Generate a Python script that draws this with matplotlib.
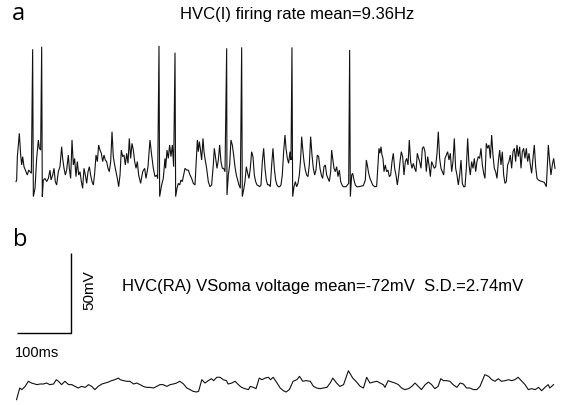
import matplotlib
matplotlib.use("Agg")
import matplotlib.pyplot as plt
import numpy as np

plt.rcParams['font.family'] = ['Liberation Sans', 'DejaVu Sans']

# ---------------- data (ms, mV) ----------------
# Panel a: HVC(I) membrane potential, subthreshold samples
a_t = [0, 1.2, 2.5, 6.2, 8.7, 10.6, 12.4, 14.9, 18.6, 21.1, 23.6, 26.1, 28.6,
       32.3, 35.4, 38.5, 41.6, 43.5, 45.9,
       49.0, 50.9, 54, 57.1, 60.2, 63.3, 65.2, 68.3, 70.8, 73.2, 75.7, 78.8, 81.9,
       85, 86.9, 89.4, 91.9, 94.3, 97.4, 99.3, 101.8, 104.3, 106.8, 109.2, 111.7,
       114.2, 116.7, 119.2, 121.7, 124.1, 126.6, 129.1, 131.6, 134.1, 136.6, 139,
       141.5, 144, 146.5, 149, 151.5, 153.9, 156.4, 158.9, 161.4, 163.9, 166.3,
       168.8, 171.3, 173.8, 176.3, 178.8, 181.2, 183.7, 186.2, 188.7, 191.2, 193.7,
       196.1, 198.6, 201.1, 203.6, 206.1, 208.6, 211, 213.5, 216, 218.5, 221,
       223.5, 225.9, 228.4, 232.1, 235.9, 239.6, 242.1, 245.8,
       249.5, 252.6, 255.7, 258.8, 261.9, 263.8,
       267.5, 271.2, 274.3, 277.4, 278.7, 281.2, 283.6, 286.1, 288.6, 291.1, 293.6,
       297.3, 299.8, 302.3, 304.8, 307.2, 309.7, 312.2, 314.7, 317.8, 320.9, 324,
       327.1, 330.2, 333.3, 335.8, 337.7, 339.5, 341.4, 343.2, 345.7, 348.2, 350.1,
       351.9, 355, 358.1, 361.2, 364.3, 367.4, 369.3, 371.8, 374.3, 376.8, 379.2,
       381.7, 384.2, 386.7, 389.2,
       392.9, 395.4, 397.9, 400.3, 402.8, 405.3, 407.8, 410.3, 412.8, 415.2, 417.7,
       421.4, 423.9, 426.4, 428.9, 431.4, 433.9, 436.3, 438.8, 441.3, 443.8, 446.3,
       448.8, 451.2, 453.7, 456.2, 458.7, 461.2, 463.7, 466.1, 468.6, 471.1, 473.6,
       476.1, 478.5, 481, 483.5, 486, 488.5, 491, 493.4, 495.9, 498.4,
       500.9, 502.8, 505.3, 507.7, 510.2, 512.1,
       515.2, 517.7, 520.2, 522.6, 525.1, 527.6, 530.1, 532, 533.8, 536.3, 538.8,
       541.3, 543.7, 546.2, 548.7, 551.2, 553.7, 556.2, 558.6, 561.1, 563.6, 566.1,
       568.6, 571.1, 573.5, 576, 578.5, 581, 583.5, 586, 587.8, 589.7, 592.2, 594.6,
       597.1, 599.6, 602.1, 604.6, 607.1, 609.5, 612, 614.5, 617, 619.5,
       622.6, 625.1, 626.9, 629.4, 631.9, 634.4, 638.1, 643.1, 646.8, 650.5, 652.4,
       654.2, 656.7, 659.2, 661.7, 664.2, 667.9, 671.6, 674.1, 675.9, 677.8, 679.7,
       681.5, 683.4, 685.3, 687.7, 690.2, 692.7, 695.2, 697.7, 700.2, 702.6, 705.1,
       707.6, 710.1, 712.6, 715.1, 717.5, 720, 722.5, 725, 727.5, 730, 732.4, 734.9,
       737.4, 739.9, 742.4, 744.8, 747.3, 749.8,
       751.7, 754.2, 756.7, 759.1, 761.6, 764.1, 766.6, 769.1, 771.6, 774, 776.5,
       779, 781.5, 784, 786.4, 788.9, 791.4, 793.9, 796.4, 798.9, 801.3, 803.8,
       806.3, 808.8, 811.3, 813.8, 816.2, 818.7, 821.2, 823.7, 826.2, 828.7, 831.1,
       833.6, 836.1, 838.6, 841.1, 843.6, 846, 848.5, 851, 853.5, 856, 858.4, 860.9,
       863.4, 865.9, 868.4, 870.9, 873.3, 875.8, 878.3, 880.8, 883.3, 885.8, 888.2,
       890.7, 893.2, 895.7, 898.2, 900.7, 903.1, 905.6, 908.1, 910.6, 913.1, 915.5,
       918, 920.5, 923, 925.5, 928, 930.4, 932.9, 935.4, 937.9, 940.4, 942.9, 945.3,
       947.8, 950.3, 952.8, 955.3, 957.8, 960.2, 962.7, 965.2, 967.7, 970.2, 972.7,
       976.4, 980.1, 983.8, 987.6, 991.3, 993.8, 996.2, 998.7, 1001.2, 1003.7]
a_v = [-71.0, -70.0, -55.4, -40.8, -54.4, -60.6, -55.4, -61.7, -64.8, -66.9, -63.8, -64.8, -65.8,
       -80.4, -75.2, -56.5, -45.0, -50.2, -51.3,
       -80.4, -70.0, -69.0, -71.0, -69.0, -63.8, -70.0, -66.9, -62.7, -71.0, -73.1, -64.8, -61.7,
       -49.2, -56.5, -62.7, -66.9, -63.8, -54.4, -62.7, -69.0, -45.0, -60.6, -56.5, -67.9,
       -58.5, -66.9, -64.8, -71.0, -75.2, -62.7, -66.9, -72.1, -64.8, -61.7, -66.9,
       -71.0, -73.1, -65.8, -54.4, -58.5, -48.1, -51.3, -53.3, -58.5, -54.4, -57.5,
       -58.5, -62.7, -64.8, -58.5, -39.8, -55.4, -60.6, -64.8, -69.0, -74.2, -66.9,
       -51.3, -55.4, -54.4, -60.6, -53.3, -59.6, -44.0, -56.5, -47.1, -51.3, -58.5,
       -62.7, -58.5, -66.9, -72.1, -64.8, -62.7, -69.0, -61.7,
       -45.0, -54.4, -62.7, -67.9, -66.9, -69.0,
       -80.4, -73.1, -69.0, -56.5, -62.7, -51.3, -56.5, -48.1, -55.4, -48.1, -61.7,
       -80.4, -75.2, -72.1, -73.1, -70.0, -71.0, -66.9, -62.7, -63.8, -63.8, -66.9,
       -69.0, -72.1, -73.1, -56.5, -45.0, -52.3, -46.0, -50.2, -57.5, -44.0, -52.3,
       -56.5, -62.7, -71.0, -74.2, -73.1, -60.6, -50.2, -56.5, -62.7, -57.5, -48.1,
       -58.5, -62.7, -62.7, -64.8,
       -79.4, -66.9, -60.6, -45.0, -48.1, -54.4, -61.7, -66.9, -70.0, -73.1, -75.2,
       -80.4, -76.3, -71.0, -61.7, -65.8, -69.0, -62.7, -52.3, -55.4, -66.9, -71.0,
       -73.1, -73.5, -74.2, -73.1, -58.5, -50.2, -62.7, -70.0, -73.1, -72.9, -74.2,
       -60.6, -50.2, -62.7, -70.0, -73.1, -74.2, -74.2, -73.1, -66.9, -52.3,
       -41.9, -50.2, -56.5, -59.6, -52.3, -57.5,
       -80.4, -74.2, -71.0, -74.2, -72.1, -66.9, -56.5, -42.9, -50.2, -58.5, -63.8,
       -66.9, -67.9, -60.6, -42.9, -54.4, -62.7, -66.9, -63.8, -54.4, -55.4, -62.7,
       -66.9, -69.0, -61.7, -60.6, -66.9, -69.0, -71.0, -64.8, -51.3, -56.5, -62.7, -64.8,
       -61.7, -67.9, -63.8, -71.0, -73.1, -74.2, -74.2, -74.2, -73.1, -72.1,
       -80.4, -66.9, -65.8, -70.0, -73.1, -74.2, -74.2, -73.8, -73.5, -70.0, -57.5,
       -60.6, -65.8, -69.0, -71.0, -73.1, -74.2, -74.0, -60.6, -50.2, -53.3, -49.2,
       -54.4, -56.5, -64.8, -60.6, -64.8, -63.8, -67.9, -66.9, -58.5, -53.3, -62.7,
       -66.9, -73.1, -66.9, -58.5, -52.3, -55.4, -66.9, -58.5, -56.5, -60.6, -45.0, -58.5,
       -62.7, -59.6, -62.7, -64.8, -53.3, -56.5,
       -58.5, -62.7, -50.2, -49.2, -52.3, -64.8, -55.4, -60.6, -67.9, -58.5, -60.6,
       -62.7, -61.7, -53.3, -39.8, -56.5, -62.7, -64.8, -66.9, -56.5, -54.4, -52.3,
       -57.5, -53.3, -64.8, -58.5, -44.0, -62.7, -66.9, -73.1, -66.9, -57.5, -72.1,
       -74.2, -74.2, -62.7, -44.0, -60.6, -66.9, -58.5, -62.7, -56.5, -64.8, -58.5, -55.4,
       -56.5, -50.2, -60.6, -65.8, -69.0, -47.1, -50.2, -48.1, -56.5, -41.9, -54.4,
       -62.7, -64.8, -69.0, -58.5, -51.3, -60.6, -52.3, -66.9, -72.1, -71.0, -60.6,
       -58.5, -54.4, -62.7, -52.3, -50.2, -58.5, -48.1, -55.4, -49.2, -62.7, -52.3, -50.2,
       -56.5, -50.2, -58.5, -53.3, -60.6, -65.8, -56.5, -48.1, -61.7, -69.0, -70.0,
       -70.6, -71.0, -71.5, -74.2, -48.1, -58.5, -66.9, -60.6, -56.5, -62.7]

# Panel a: action potentials (time of peak, peak voltage)
spike_t = [31.0, 47.8, 266.3, 296.1, 392.3, 420.2, 513.9, 621.3]
spike_v = [11.7, 13.3, 13.8, 9.6, 12.3, 12.9, 12.9, 11.3]

# Panel b: HVC(RA) somatic voltage
b_t = [1, 7, 11, 17, 23, 29, 39, 45, 51, 57, 63, 70, 75, 79, 85, 91, 98, 104,
       110, 116, 122, 129, 135, 141, 147, 153, 160, 166, 172, 178, 184, 191, 194,
       200, 206, 212, 219, 225, 231, 237, 243, 250, 256, 262, 268, 274, 281, 287,
       293, 299, 305, 312, 318, 324, 330, 336, 340, 346, 352, 358, 364, 368, 374,
       380, 386, 392, 395, 402, 408, 414, 420, 426, 433, 436, 442, 447, 453, 458,
       464, 470, 474, 479, 485, 492, 498, 503, 509, 516, 523, 528, 534, 540, 548,
       554, 560, 566, 572, 579, 585, 590, 597, 603, 610, 619, 627, 633, 641, 647,
       653, 659, 665, 672, 678, 684, 687, 693, 700, 706, 712, 718, 724, 731, 737,
       743, 749, 755, 762, 768, 774, 780, 786, 791, 796, 802, 808, 814, 821, 827,
       833, 839, 845, 852, 858, 864, 873, 880, 886, 892, 898, 904, 911, 917, 923,
       929, 935, 942, 948, 954, 960, 967, 973, 979, 985, 991, 994, 1001]
b_v = [-84.3, -77.0, -78.0, -76.0, -72.8, -73.9, -74.9, -74.5, -74.5, -73.9, -74.9,
       -74.5, -71.8, -72.8, -74.9, -72.8, -74.9, -74.9, -76.0, -77.0, -76.0, -76.6,
       -74.9, -76.0, -78.0, -76.0, -74.5, -73.9, -73.3, -72.4, -71.8, -70.8, -71.8,
       -72.4, -72.8, -72.8, -74.5, -73.9, -74.9, -76.0, -76.6, -76.6, -77.0, -76.0,
       -74.9, -74.9, -76.0, -74.9, -74.5, -73.9, -72.8, -74.5, -77.0, -78.0, -79.1,
       -79.5, -79.1, -71.8, -73.9, -72.4, -71.2, -72.4, -70.3, -70.3, -71.8, -72.4,
       -74.5, -73.9, -72.8, -74.9, -76.6, -77.4, -78.0, -76.0, -76.6, -77.4, -70.8,
       -71.8, -70.8, -70.3, -71.8, -70.3, -73.3, -77.0, -78.7, -79.5, -78.0, -72.8,
       -71.8, -69.7, -72.8, -72.4, -72.8, -76.0, -77.0, -77.4, -77.0, -76.6, -73.9,
       -70.8, -73.9, -76.0, -74.9, -66.2, -70.8, -72.8, -76.0, -77.0, -70.3, -73.9,
       -73.3, -72.8, -73.9, -74.9, -76.6, -72.4, -73.3, -73.9, -74.9, -77.0, -78.0,
       -77.4, -76.0, -73.9, -76.0, -78.0, -74.9, -73.3, -74.9, -77.4, -76.0, -71.2,
       -72.4, -72.4, -72.8, -74.9, -76.6, -73.9, -74.5, -77.0, -77.0, -78.0, -78.0,
       -76.0, -68.7, -69.7, -71.8, -72.8, -71.2, -72.8, -72.4, -71.8, -72.4, -71.8,
       -70.3, -72.8, -74.9, -78.0, -77.4, -78.0, -76.6, -78.7, -76.6, -74.9, -77.0,
       -74.9]

SCALE_T = 100   # ms
SCALE_V = 50    # mV

# ---------------- layout ----------------
W, H = 563, 405
PX_PER_MS = 0.537
PX_PER_MV = 1.6
X0 = 16            # px where t = 0
A_REF = (180, -70)  # (px row, mV) anchor of trace a
B_REF = (380, -72)  # (px row, mV) anchor of trace b

fig = plt.figure(figsize=(W / 100, H / 100), dpi=100)
ax = fig.add_axes([0, 0, 1, 1])
ax.axis('off')
ax.set_xlim(-X0 / PX_PER_MS, (W - X0) / PX_PER_MS)
ax.set_ylim(0, H / PX_PER_MV)

off_a = (H - A_REF[0]) / PX_PER_MV - A_REF[1]
off_b = (H - B_REF[0]) / PX_PER_MV - B_REF[1]

# merge spikes into trace a
t_all = np.array(a_t + spike_t)
v_all = np.array(a_v + spike_v)
order = np.argsort(t_all, kind='stable')
ax.plot(t_all[order], v_all[order] + off_a, color='#111111', lw=0.8,
        solid_joinstyle='miter')

ax.plot(b_t, np.array(b_v) + off_b, color='#111111', lw=0.8)

# scale bar
bar_y = (H - 333) / PX_PER_MV
bar_x1 = (70.5 - X0) / PX_PER_MS
ax.plot([bar_x1 - SCALE_T, bar_x1, bar_x1], [bar_y, bar_y, bar_y + SCALE_V],
        color='black', lw=1.0, solid_capstyle='butt', solid_joinstyle='miter')


def fx(x):
    return x / W


def fy(y):
    return 1 - y / H


fig.text(fx(12), fy(14), 'a', fontsize=17, ha='left', va='center',
         family=['Open Sans', 'DejaVu Sans'])
fig.text(fx(13), fy(240), 'b', fontsize=17, ha='left', va='center',
         family=['Open Sans', 'DejaVu Sans'])
fig.text(fx(297), fy(14), 'HVC(I) firing rate mean=9.36Hz', fontsize=12,
         ha='center', va='center')
fig.text(fx(122), fy(286), 'HVC(RA) VSoma voltage mean=-72mV  S.D.=2.74mV',
         fontsize=12, ha='left', va='center')
fig.text(fx(89), fy(290), f'{SCALE_V}mV', fontsize=11, rotation=90,
         ha='center', va='center')
fig.text(fx(15), fy(353), f'{SCALE_T}ms', fontsize=10.5, ha='left', va='center')

fig.savefig('out.png', dpi=100)
